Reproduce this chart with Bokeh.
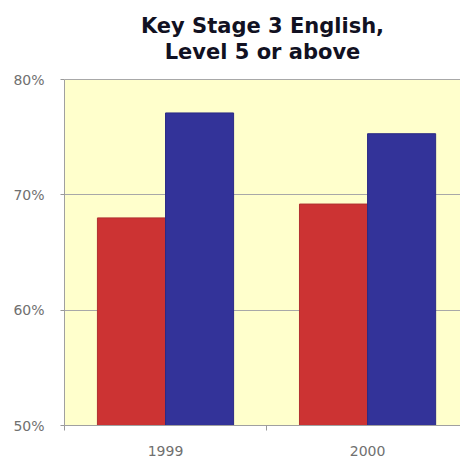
from bokeh.plotting import figure
from bokeh.models import (ColumnDataSource, FixedTicker, PrintfTickFormatter, Range1d,
                          Label, BoxAnnotation)
from bokeh.transform import dodge
from bokeh.embed import file_html
from bokeh.resources import INLINE

years = ["1999", "2000"]
school = [68.0, 69.2]      # red series
national = [77.1, 75.3]    # blue series
y_ticks = [50, 60, 70, 80]
title_lines = ["Key Stage 3 English,", "Level 5 or above"]

y_lo, y_hi = 50, 80
px_per_unit = 346 / (y_hi - y_lo)
y_top = y_hi + 79 / px_per_unit   # room above the plot area for the title

pos = [i + 0.5 for i in range(len(years))]
src = ColumnDataSource(dict(pos=pos, school=school, national=national))

p = figure(width=460, height=459, output_backend="svg", toolbar_location=None,
           x_range=Range1d(0, 1.96), y_range=Range1d(y_lo, y_top),
           min_border_left=64, min_border_right=0, min_border_bottom=34,
           min_border_top=0)
p.title.visible = False

p.background_fill_color = "white"
p.border_fill_color = "white"
p.outline_line_color = None

# pale yellow plot area (50% .. 80%)
p.add_layout(BoxAnnotation(bottom=y_lo, top=y_hi, fill_color="#FFFFCC", fill_alpha=1,
                           line_color=None, level="image"))

# title lines
for line, base_px in zip(title_lines, [25, 51]):
    p.add_layout(Label(x=0.98, y=y_hi + (79 - base_px) / px_per_unit, text=line,
                       text_align="center", text_baseline="alphabetic",
                       text_font="DejaVu Sans", text_font_style="bold",
                       text_font_size="21px", text_color="#111122"))

bw = 0.337
p.vbar(x=dodge("pos", -bw / 2, range=p.x_range), top="school", bottom=y_lo, width=bw,
       source=src, fill_color="#CC3333", line_color="#B03030", line_width=1)
p.vbar(x=dodge("pos", bw / 2, range=p.x_range), top="national", bottom=y_lo, width=bw,
       source=src, fill_color="#333399", line_color="#2B2B85", line_width=1)

# axes
xa = p.xaxis[0]
xa.ticker = FixedTicker(ticks=pos, minor_ticks=[0, 1])
xa.major_label_overrides = {pos[i]: years[i] for i in range(len(years))}
xa.major_tick_out = 0
xa.major_tick_in = 0
xa.minor_tick_out = 5
xa.minor_tick_in = 0
xa.minor_tick_line_color = "#999999"
xa.axis_line_color = "#A0A0A0"
xa.major_label_text_font = "DejaVu Sans"
xa.major_label_text_font_size = "14px"
xa.major_label_text_color = "#707070"
xa.major_label_standoff = 15

ya = p.yaxis[0]
ya.bounds = (y_lo, y_hi)
ya.ticker = FixedTicker(ticks=y_ticks)
ya.formatter = PrintfTickFormatter(format="%d%%")
ya.major_tick_out = 4
ya.major_tick_in = 0
ya.minor_tick_line_color = None
ya.major_tick_line_color = "#999999"
ya.axis_line_color = "#A0A0A0"
ya.major_label_text_font = "DejaVu Sans"
ya.major_label_text_font_size = "14px"
ya.major_label_text_color = "#707070"
ya.major_label_standoff = 16

p.xgrid.grid_line_color = None
p.ygrid.grid_line_color = "#A8A8A8"
p.ygrid.ticker = FixedTicker(ticks=y_ticks)

open("out.html", "w").write(file_html(p, INLINE))
